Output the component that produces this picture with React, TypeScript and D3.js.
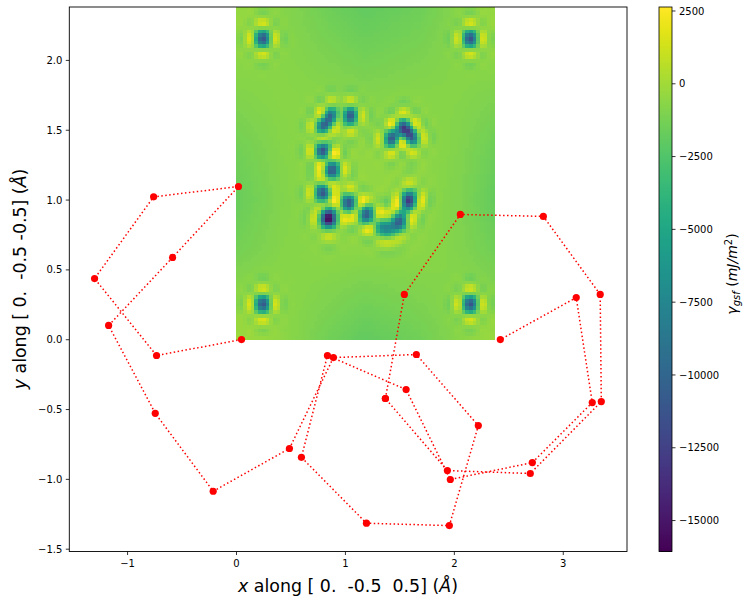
import React from "react";
import * as d3 from "d3";

const W = 753, H = 605;
const M = { left: 69.3, right: 627, top: 7, bottom: 551.5 };
const CB = { left: 659, right: 672, top: 7, bottom: 551.5 };

const xTicks = [-1, 0, 1, 2, 3];
const yTicks = [-1.5, -1, -0.5, 0, 0.5, 1, 1.5, 2];
const cTicks = [2500, 0, -2500, -5000, -7500, -10000, -12500, -15000];

// main chain of sites
const chainX = [0.046,-0.734,-1.303,-0.761,0.018,-0.587,-1.174,-0.746,-0.214,0.486,0.890,1.651,2.220,1.954,1.193,0.596,0.835,1.557,1.963,2.716,3.266,3.119,2.422];
const chainY = [0.001,-0.113,0.438,1.023,1.097,0.589,0.102,-0.527,-1.085,-0.779,-0.128,-0.106,-0.615,-1.331,-1.314,-0.842,-0.113,-0.357,-1.001,-0.880,-0.450,0.302,0.001];
// second chain of sites
const loopX = [1.367,1.541,2.055,2.817,3.339,3.349,2.697,1.936,1.367];
const loopY = [-0.421,0.324,0.897,0.883,0.324,-0.443,-0.958,-0.937,-0.421];

// heat map: wells (centre and depth in mJ/m2)
const wellX = [0.245,2.150,0.245,2.150,0.878,0.805,1.043,0.798,0.881,1.548,1.609,1.426,1.484,0.795,0.822,0.878,0.822,0.878,1.034,1.199,1.345,1.419,1.492,1.512,1.594,1.575];
const wellY = [2.156,2.156,0.254,0.254,1.603,1.529,1.603,1.357,1.214,1.517,1.453,1.441,1.490,1.049,0.900,0.900,0.840,0.840,0.978,0.895,0.805,0.805,0.813,0.864,1.021,0.963];
const wellDepth = [-10500,-10500,-10500,-10500,-9000,-9000,-10500,-10500,-10500,-11000,-10500,-9500,-4000,-10500,-6000,-6000,-6000,-6000,-10500,-10000,-6500,-5500,-5500,-7500,-9000,-7500];

// heat map: slowly varying background read on a coarse grid
const bgXs = [0, 0.404, 0.863, 1.184, 1.689, 2.056, 2.376];
const bgYs = [2.38, 2.07, 1.72, 1.36, 1.0, 0.64, 0.28, 0];
const bgRows = [
  [-300,-700,-1500,-1900,-1500,-700,-300],
  [-500,-700,-1100,-1400,-1100,-700,-500],
  [-900,-700,-700,-800,-700,-800,-1000],
  [-1400,-800,-500,-500,-500,-900,-1500],
  [-1700,-900,-500,-400,-500,-1000,-1800],
  [-1300,-800,-600,-600,-600,-900,-1400],
  [-500,-600,-1000,-1300,-1000,-700,-700],
  [-100,-500,-1400,-1900,-1400,-700,-200],
];
const NX = 70, NY = 90;
const XMAX = 2.376, YMAX = 2.38;
const VMIN = -16063, VMAX = 2637;

const x = d3.scaleLinear().domain([-1.535, 3.585]).range([M.left, M.right]);
const y = d3.scaleLinear().domain([-1.5165, 2.3825]).range([M.bottom, M.top]);
const c = d3.scaleLinear().domain([VMIN, VMAX]).range([CB.bottom, CB.top]);
const color = (v: number) => d3.interpolateViridis(Math.max(0, Math.min(1, (v - VMIN) / (VMAX - VMIN))));

// ringing shape of each well: a main lobe, one strong side lobe, a faint second one
const lobe = (t: number) => (Math.abs(t) < 1e-6 ? 1 : (Math.sin(Math.PI * t) / (Math.PI * t)) * Math.exp(-Math.pow(t / 2.6, 4)));

function bg(px: number, py: number) {
  const i = Math.max(0, Math.min(bgXs.length - 2, d3.bisectRight(bgXs, px) - 1));
  let j = 0;
  while (j < bgYs.length - 2 && py < bgYs[j + 1]) j++;
  const tx = (px - bgXs[i]) / (bgXs[i + 1] - bgXs[i]);
  const ty = (bgYs[j] - py) / (bgYs[j] - bgYs[j + 1]);
  const a = bgRows[j][i] * (1 - tx) + bgRows[j][i + 1] * tx;
  const b = bgRows[j + 1][i] * (1 - tx) + bgRows[j + 1][i + 1] * tx;
  return a * (1 - ty) + b * ty;
}

function field(px: number, py: number) {
  let v = bg(px, py);
  wellX.forEach((wx, k) => {
    v += wellDepth[k] * lobe((px - wx) / 0.085) * lobe((py - wellY[k]) / 0.08);
  });
  return v;
}

const cells: { i: number; j: number; v: number }[] = [];
for (let j = 0; j < NY; j++) {
  for (let i = 0; i < NX; i++) {
    cells.push({ i, j, v: field(((i + 0.5) / NX) * XMAX, YMAX - ((j + 0.5) / NY) * YMAX) });
  }
}
const bandX = d3.scaleBand<number>().domain(d3.range(NX)).range([x(0) - 0.5, x(XMAX) - 0.5]);
const bandY = d3.scaleBand<number>().domain(d3.range(NY)).range([y(YMAX), y(0)]);
const cbSteps = d3.range(256);
const cbVal = (s: number) => VMIN + ((s + 0.5) / 256) * (VMAX - VMIN);

const line = d3.line<number>();
const path = (xs: number[], ys: number[]) => line(xs.map((v, k) => [x(v), y(ys[k])] as [number, number])) as string;
const fmt = (v: number | string) => String(v).replace("-", "\u2212");
const FONT = "'DejaVu Sans', sans-serif";
const INK = "#000";

export default function App() {
  return (
    <svg width={W} height={H} viewBox={`0 0 ${W} ${H}`} style={{ position: "absolute", left: 0, top: 0, background: "#fff", fontFamily: FONT }}>
      <g shapeRendering="crispEdges">
        {cells.map((d) => (
          <rect key={`${d.i}-${d.j}`} x={bandX(d.i)} y={bandY(d.j)} width={bandX.bandwidth() + 0.3} height={bandY.bandwidth() + 0.3} fill={color(d.v)} />
        ))}
      </g>
      <path d={path(chainX, chainY)} fill="none" stroke="#f00" strokeWidth={1.5} strokeDasharray="1.5 2.47" />
      <path d={path(loopX, loopY)} fill="none" stroke="#f00" strokeWidth={1.5} strokeDasharray="1.5 2.47" />
      {chainX.map((v, k) => <circle key={`a${k}`} cx={x(v)} cy={y(chainY[k])} r={3.6} fill="#f00" />)}
      {loopX.map((v, k) => <circle key={`b${k}`} cx={x(v)} cy={y(loopY[k])} r={3.6} fill="#f00" />)}

      <rect x={M.left} y={M.top} width={M.right - M.left} height={M.bottom - M.top} fill="none" stroke={INK} strokeWidth={0.9} />
      {xTicks.map((t) => (
        <g key={t}>
          <line x1={x(t)} x2={x(t)} y1={M.bottom} y2={M.bottom + 3.5} stroke={INK} strokeWidth={0.8} />
          <text x={x(t)} y={M.bottom + 15} textAnchor="middle" fontSize={10} fill={INK}>{fmt(t)}</text>
        </g>
      ))}
      {yTicks.map((t) => (
        <g key={t}>
          <line x1={M.left - 3.5} x2={M.left} y1={y(t)} y2={y(t)} stroke={INK} strokeWidth={0.8} />
          <text x={M.left - 7} y={y(t) + 3.6} textAnchor="end" fontSize={10} fill={INK}>{fmt(t.toFixed(1))}</text>
        </g>
      ))}
      <text x={348} y={592} textAnchor="middle" fontSize={17.4} fill={INK} style={{ whiteSpace: "pre" }}>
        <tspan fontStyle="italic">x</tspan> along [ 0.  -0.5  0.5] (<tspan fontStyle="italic">Å</tspan>)
      </text>
      <text transform="translate(26,279) rotate(-90)" textAnchor="middle" fontSize={17.4} fill={INK} style={{ whiteSpace: "pre" }}>
        <tspan fontStyle="italic">y</tspan> along [ 0.  -0.5 -0.5] (<tspan fontStyle="italic">Å</tspan>)
      </text>

      <g shapeRendering="crispEdges">
        {cbSteps.map((s) => (
          <rect key={s} x={CB.left} width={CB.right - CB.left} y={c(cbVal(s)) - (CB.bottom - CB.top) / 512} height={(CB.bottom - CB.top) / 256 + 0.6} fill={color(cbVal(s))} />
        ))}
      </g>
      <rect x={CB.left} y={CB.top} width={CB.right - CB.left} height={CB.bottom - CB.top} fill="none" stroke={INK} strokeWidth={0.8} />
      {cTicks.map((t) => (
        <g key={t}>
          <line x1={CB.right} x2={CB.right + 3.5} y1={c(t)} y2={c(t)} stroke={INK} strokeWidth={0.8} />
          <text x={CB.right + 7} y={c(t) + 3.6} fontSize={10} fill={INK}>{fmt(t)}</text>
        </g>
      ))}
      <text transform="translate(737,274) rotate(-90)" textAnchor="middle" fontSize={14} fill={INK} fontStyle="italic">
        γ<tspan fontSize={10} dy={3}>gsf</tspan><tspan dy={-3}> </tspan><tspan fontStyle="normal">(</tspan>mJ/m<tspan fontSize={10} dy={-5} fontStyle="normal">2</tspan><tspan dy={5} fontStyle="normal">)</tspan>
      </text>
    </svg>
  );
}
